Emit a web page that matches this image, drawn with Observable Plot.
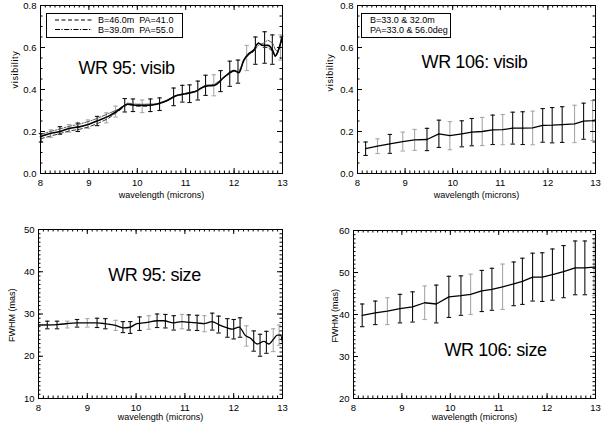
<!DOCTYPE html>
<html><head><meta charset="utf-8">
<script src="https://cdn.jsdelivr.net/npm/d3@7"></script>
<script src="https://cdn.jsdelivr.net/npm/@observablehq/plot@0.6"></script>
<style>
body{margin:0;background:#fff;}
#wrap{position:relative;width:602px;height:429px;overflow:hidden;background:#fff;font-family:"Liberation Sans",Arial,Helvetica,sans-serif;}
.panel{position:absolute;}
.legend{position:absolute;}
</style></head><body><div id="wrap"></div>
<script>
// ---------- DATA ----------
const xTicks = [8, 9, 10, 11, 12, 13];
const visTicks = [0.0, 0.2, 0.4, 0.6, 0.8];
const size95Ticks = [10, 20, 30, 40, 50];
const size106Ticks = [20, 30, 40, 50, 60];

const titles = ["WR 95: visib", "WR 106: visib", "WR 95: size", "WR 106: size"];
const xLabel = "wavelength (microns)";
const visLabel = "visibility";
const sizeLabel = "FWHM (mas)";
const legend95 = ["B=46.0m  PA=41.0", "B=39.0m  PA=55.0"];
const legend106 = ["B=33.0 & 32.0m", "PA=33.0 & 56.0deg"];

// WR 95 visibility curves
const wl95v = [8.0, 8.2, 8.4, 8.6, 8.8, 9.0, 9.2, 9.4, 9.6, 9.8, 10.0, 10.2, 10.4, 10.6, 10.8, 11.0, 11.2, 11.4, 11.6, 11.8, 12.0, 12.1, 12.2, 12.3, 12.4, 12.5, 12.6, 12.7, 12.8, 12.85, 12.9, 13.0];
const vis95mean = [0.175, 0.19, 0.20, 0.215, 0.222, 0.235, 0.253, 0.272, 0.30, 0.33, 0.325, 0.325, 0.33, 0.345, 0.37, 0.38, 0.39, 0.415, 0.42, 0.46, 0.49, 0.48, 0.54, 0.57, 0.585, 0.62, 0.61, 0.61, 0.585, 0.56, 0.578, 0.655];
const vis95b46 = [0.165, 0.178, 0.19, 0.203, 0.21, 0.222, 0.24, 0.262, 0.295, 0.33, 0.32, 0.32, 0.33, 0.345, 0.37, 0.378, 0.39, 0.418, 0.418, 0.46, 0.49, 0.48, 0.535, 0.57, 0.59, 0.625, 0.6, 0.6, 0.58, 0.555, 0.575, 0.65];
const vis95b39 = [0.185, 0.2, 0.212, 0.225, 0.235, 0.248, 0.265, 0.285, 0.305, 0.335, 0.33, 0.33, 0.332, 0.348, 0.372, 0.382, 0.392, 0.42, 0.425, 0.46, 0.49, 0.485, 0.54, 0.565, 0.58, 0.61, 0.62, 0.635, 0.62, 0.59, 0.58, 0.65];
// WR 95 visibility error bars
const eb95vX = [8.01, 8.21, 8.40, 8.59, 8.77, 8.98, 9.17, 9.36, 9.55, 9.74, 9.91, 10.10, 10.27, 10.46, 10.75, 10.93, 11.08, 11.25, 11.41, 11.58, 11.72, 11.91, 12.08, 12.26, 12.44, 12.63, 12.79, 12.96];
const eb95vC = [0.17, 0.19, 0.205, 0.215, 0.22, 0.235, 0.25, 0.265, 0.295, 0.325, 0.325, 0.32, 0.325, 0.33, 0.365, 0.38, 0.38, 0.395, 0.42, 0.42, 0.44, 0.475, 0.485, 0.55, 0.585, 0.60, 0.59, 0.60];
const eb95vE = [0.02, 0.018, 0.018, 0.018, 0.02, 0.02, 0.022, 0.024, 0.026, 0.032, 0.03, 0.03, 0.03, 0.03, 0.042, 0.04, 0.042, 0.045, 0.048, 0.05, 0.05, 0.06, 0.055, 0.06, 0.065, 0.075, 0.07, 0.06];
const eb95vS = ["k","g","k","g","k","g","k","g","g","k","k","g","k","k","k","k","k","k","k","g","k","k","k","g","k","k","k","g"];

// WR 106 visibility
const wl106v = [8.17, 8.42, 8.68, 8.95, 9.20, 9.46, 9.71, 9.94, 10.19, 10.40, 10.62, 10.84, 11.05, 11.26, 11.47, 11.68, 11.89, 12.09, 12.30, 12.56, 12.75, 12.94, 13.0];
const vis106 = [0.118, 0.13, 0.141, 0.152, 0.16, 0.162, 0.189, 0.18, 0.189, 0.197, 0.2, 0.208, 0.209, 0.216, 0.216, 0.217, 0.229, 0.23, 0.233, 0.236, 0.249, 0.252, 0.255];
const vis106Err = [0.032, 0.035, 0.045, 0.045, 0.05, 0.053, 0.065, 0.067, 0.062, 0.065, 0.067, 0.07, 0.072, 0.076, 0.078, 0.08, 0.08, 0.084, 0.085, 0.089, 0.086, 0.095];
const eb106vS = ["k","g","k","g","g","k","k","g","k","k","g","k","g","k","k","g","k","k","k","g","k","g"];

// WR 95 size
const wl95s = [8.0, 8.38, 8.79, 9.0, 9.2, 9.37, 9.58, 9.75, 9.88, 10.02, 10.23, 10.43, 10.57, 10.77, 10.94, 11.11, 11.25, 11.39, 11.56, 11.69, 11.87, 11.97, 12.11, 12.24, 12.34, 12.48, 12.62, 12.72, 12.82, 12.89, 12.96, 13.0];
const size95 = [27.4, 27.5, 27.9, 27.9, 27.9, 27.7, 27.3, 26.7, 26.9, 27.7, 28.0, 28.4, 28.4, 27.9, 28.2, 28.0, 27.9, 27.7, 28.2, 27.5, 26.7, 26.4, 26.9, 24.9, 24.3, 22.9, 23.5, 22.9, 24.1, 25.0, 25.0, 23.2];
const eb95sX = [8.18, 8.38, 8.59, 8.79, 9.0, 9.2, 9.37, 9.58, 9.73, 9.88, 10.07, 10.26, 10.43, 10.6, 10.77, 10.94, 11.08, 11.25, 11.4, 11.56, 11.69, 11.87, 12.0, 12.13, 12.26, 12.41, 12.54, 12.67, 12.81, 12.93];
const eb95sC = [27.4, 27.4, 27.5, 27.8, 27.9, 27.9, 27.7, 27.3, 26.9, 26.8, 27.7, 28.0, 28.4, 28.3, 27.9, 28.2, 28.0, 27.9, 27.7, 28.2, 27.5, 26.7, 26.4, 26.8, 24.8, 23.6, 22.6, 23.3, 23.8, 25.0];
const eb95sE = [0.9, 0.9, 0.8, 0.9, 1.0, 1.1, 1.2, 1.2, 1.3, 1.4, 1.6, 1.6, 1.6, 1.6, 1.7, 1.7, 1.8, 1.8, 1.9, 2.0, 2.0, 2.2, 2.3, 2.3, 2.4, 2.4, 2.6, 2.6, 2.7, 2.4];
const eb95sS = ["k","k","g","k","g","k","k","g","k","k","k","g","k","k","k","g","k","k","g","k","k","k","k","k","g","k","k","k","g","g"];

// WR 106 size
const wl106s = [8.18, 8.45, 8.70, 8.96, 9.22, 9.47, 9.71, 9.97, 10.22, 10.42, 10.65, 10.86, 11.08, 11.31, 11.49, 11.70, 11.90, 12.11, 12.34, 12.58, 12.78, 12.97, 13.0];
const size106 = [39.8, 40.4, 40.8, 41.4, 41.8, 42.8, 42.5, 44.2, 44.5, 44.8, 45.6, 46.0, 46.6, 47.3, 47.9, 48.9, 48.9, 49.5, 50.2, 51.1, 51.1, 51.3, 51.3];
const size106Err = [2.7, 2.8, 3.2, 3.4, 3.6, 4.0, 4.5, 4.9, 4.7, 4.8, 4.9, 5.0, 5.4, 5.2, 5.5, 5.7, 5.8, 6.1, 6.2, 6.4, 6.4, 6.8];
const eb106sS = ["k","k","g","k","k","g","k","k","k","g","k","k","g","k","k","k","k","k","k","k","k","g"];

// ---------- HELPERS ----------
const FONT = '"Liberation Sans", Arial, Helvetica, sans-serif';
const pts = (xs, ys) => xs.map((x, i) => ({x, y: ys[i]}));
const bars = (xs, cs, es, ss) => xs.map((x, i) => ({x, lo: cs[i] - es[i], hi: cs[i] + es[i], s: ss[i]}));
const cap = {draw(ctx, size) { const w = Math.sqrt(size / Math.PI); ctx.moveTo(-w, 0); ctx.lineTo(w, 0); }};
const COLS = {k: "#111", g: "#a8a8a8"};

function barMarks(data) {
  const out = [];
  for (const s of ["g", "k"]) {
    const d = data.filter(b => b.s === s);
    const st = {stroke: COLS[s], strokeWidth: 1.1};
    out.push(Plot.ruleX(d, {x: "x", y1: "lo", y2: "hi", ...st}));
    out.push(Plot.dot(d, {x: "x", y: "lo", symbol: cap, r: 2.2, fill: "none", ...st}));
    out.push(Plot.dot(d, {x: "x", y: "hi", symbol: cap, r: 2.2, fill: "none", ...st}));
  }
  return out;
}

const xMinor = d3.range(80, 131).map(d => d / 10);

function panel(o) {
  const pw = o.width - o.mL - o.mR, ph = o.height - o.mT - o.mB;
  const svg = Plot.plot({
    width: o.width, height: o.height,
    marginLeft: o.mL, marginRight: o.mR, marginTop: o.mT, marginBottom: o.mB,
    x: {domain: [8, 13]},
    y: {domain: o.yDomain},
    style: {fontFamily: FONT, fontSize: "9.5px", color: "#000", background: "transparent", overflow: "visible"},
    marks: [
      ...o.marks,
      Plot.frame({stroke: "#000", strokeWidth: 1}),
      Plot.tickY(o.yMajor, {y: d => d, insetRight: pw - 5, stroke: "#000"}),
      Plot.tickY(o.yMajor, {y: d => d, insetLeft: pw - 5, stroke: "#000"}),
      Plot.tickY(o.yMinor, {y: d => d, insetRight: pw - 2.5, stroke: "#000"}),
      Plot.tickY(o.yMinor, {y: d => d, insetLeft: pw - 2.5, stroke: "#000"}),
      Plot.tickX(xTicks, {x: d => d, insetTop: ph - 5, stroke: "#000"}),
      Plot.tickX(xTicks, {x: d => d, insetBottom: ph - 5, stroke: "#000"}),
      Plot.tickX(xMinor, {x: d => d, insetTop: ph - 2.5, stroke: "#000"}),
      Plot.tickX(xMinor, {x: d => d, insetBottom: ph - 2.5, stroke: "#000"}),
      Plot.axisX({ticks: xTicks, tickSize: 0, tickPadding: 6, label: null, tickFormat: d => String(d)}),
      Plot.axisY({ticks: o.yMajor, tickSize: 0, tickPadding: 4, label: null, tickFormat: o.yFormat}),
      Plot.text([xLabel], {frameAnchor: "bottom", dy: o.xlDy, lineAnchor: "middle", fontSize: 9}),
      Plot.text([o.ylabel], {frameAnchor: "left", dx: o.ylDx, dy: o.ylDy, rotate: -90, lineAnchor: "middle", fontSize: 9}),
      Plot.text([o.title], {frameAnchor: "top", dx: o.tDx, dy: o.tDy, lineAnchor: "middle", fontSize: 18})
    ]
  });
  d3.select(svg).selectAll("text").filter(function() { return this.textContent === visLabel; }).attr("letter-spacing", "0.7");
  d3.select(svg).selectAll("text").filter(function() { return titles.includes(this.textContent); }).attr("letter-spacing", "-0.4");
  const div = document.createElement("div");
  div.className = "panel";
  div.style.left = o.left + "px"; div.style.top = o.top + "px";
  div.style.width = o.width + "px"; div.style.height = o.height + "px";
  div.appendChild(svg);
  document.getElementById("wrap").appendChild(div);
}

// Panel 1: WR 95 visibility
panel({
  left: 0, top: 0, width: 300, height: 215, mL: 40, mR: 18, mT: 5, mB: 42,
  yDomain: [0, 0.8], yMajor: visTicks, yMinor: d3.range(0, 81, 5).map(d => d / 100), yFormat: d3.format(".1f"),
  ylabel: visLabel, ylDx: -25, ylDy: -1, xlDy: 22, title: titles[0], tDx: -35, tDy: 63,
  marks: [
    ...barMarks(bars(eb95vX, eb95vC, eb95vE, eb95vS)),
    Plot.line(pts(wl95v, vis95b46), {x: "x", y: "y", stroke: "#333", strokeWidth: 1, strokeDasharray: "4,2.5"}),
    Plot.line(pts(wl95v, vis95b39), {x: "x", y: "y", stroke: "#555", strokeWidth: 1, strokeDasharray: "5,1.5,1.2,1.5"}),
    Plot.line(pts(wl95v, vis95mean), {x: "x", y: "y", stroke: "#000", strokeWidth: 1.6, curve: "monotone-x"})
  ]
});

// Panel 2: WR 106 visibility
panel({
  left: 300, top: 0, width: 302, height: 215, mL: 57, mR: 7, mT: 5, mB: 42,
  yDomain: [0, 0.8], yMajor: visTicks, yMinor: d3.range(0, 81, 5).map(d => d / 100), yFormat: d3.format(".1f"),
  ylabel: visLabel, ylDx: -27, ylDy: 2, xlDy: 22, title: titles[1], tDx: -2, tDy: 57,
  marks: [
    ...barMarks(bars(wl106v.slice(0, vis106Err.length), vis106, vis106Err, eb106vS)),
    Plot.line(pts(wl106v, vis106), {x: "x", y: "y", stroke: "#000", strokeWidth: 1.3})
  ]
});

// Panel 3: WR 95 size
panel({
  left: 0, top: 215, width: 300, height: 214, mL: 38, mR: 18, mT: 14, mB: 31,
  yDomain: [10, 50], yMajor: size95Ticks, yMinor: d3.range(10, 51, 1), yFormat: d => String(d),
  ylabel: sizeLabel, ylDx: -26, ylDy: 28, xlDy: 19, title: titles[2], tDx: -6, tDy: 46,
  marks: [
    ...barMarks(bars(eb95sX, eb95sC, eb95sE, eb95sS)),
    Plot.line(pts(wl95s, size95), {x: "x", y: "y", stroke: "#000", strokeWidth: 1.3, curve: "monotone-x"})
  ]
});

// Panel 4: WR 106 size
panel({
  left: 300, top: 215, width: 302, height: 214, mL: 53, mR: 7, mT: 15, mB: 31,
  yDomain: [20, 60], yMajor: size106Ticks, yMinor: d3.range(20, 61, 1), yFormat: d => String(d),
  ylabel: sizeLabel, ylDx: -18, ylDy: 28, xlDy: 19, title: titles[3], tDx: 21, tDy: 120,
  marks: [
    ...barMarks(bars(wl106s.slice(0, size106Err.length), size106, size106Err, eb106sS)),
    Plot.line(pts(wl106s, size106), {x: "x", y: "y", stroke: "#000", strokeWidth: 1.3})
  ]
});

// Legends
function legend(left, top, w, h, rows, swatches) {
  const svg = d3.create("svg").attr("class", "legend").attr("width", w).attr("height", h)
    .style("left", left + "px").style("top", top + "px").style("position", "absolute");
  svg.append("rect").attr("x", 0.5).attr("y", 0.5).attr("width", w - 1).attr("height", h - 1)
    .attr("fill", "#fff").attr("stroke", "#000").attr("stroke-width", 1);
  rows.forEach((t, i) => {
    const cy = 7 + i * 9.5;
    if (swatches) {
      svg.append("line").attr("x1", 9).attr("x2", 46).attr("y1", cy).attr("y2", cy)
        .attr("stroke", "#000").attr("stroke-width", 1).attr("stroke-dasharray", swatches[i]);
    }
    svg.append("text").attr("x", swatches ? 52 : 9).attr("y", cy).attr("dy", "0.35em")
      .attr("font-family", FONT).attr("font-size", 9).attr("fill", "#000")
      .style("white-space", "pre").text(t);
  });
  document.getElementById("wrap").appendChild(svg.node());
}
legend(46, 13, 137, 25, legend95, ["4,2.5", "5,1.5,1.2,1.5"]);
legend(361, 13, 90, 25, legend106, null);
</script>
</body></html>
